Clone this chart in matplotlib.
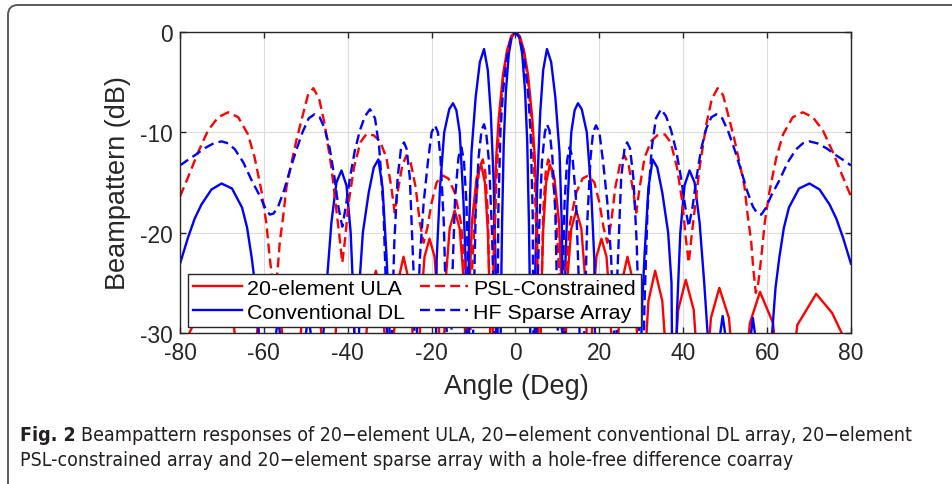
import numpy as np
import matplotlib
matplotlib.use("Agg")
import matplotlib.pyplot as plt
from matplotlib import font_manager as fm
from matplotlib.lines import Line2D
from matplotlib.patches import FancyBboxPatch
from matplotlib.transforms import IdentityTransform

# ---------------- data (right half 0..80 deg, pattern is symmetric) ----------------
ula_deg = [0, 1, 2, 3, 4, 4.6, 5.1, 5.74,
           6.1, 6.6, 7.3, 8.2, 9.3, 10.4, 11.1, 11.54,
           11.9, 12.4, 13.3, 14.5, 15.7, 16.6, 17.1, 17.46,
           17.9, 18.4, 19.3, 20.5, 21.7, 22.6, 23.1, 23.58,
           24.2, 25.1, 26.7, 28.3, 29.4, 30.0,
           30.7, 31.7, 33.3, 35.0, 36.2, 36.87,
           37.6, 38.8, 40.6, 42.5, 43.7, 44.43,
           45.3, 46.6, 48.6, 50.9, 52.3, 53.13,
           54.2, 55.9, 58.3, 61.4, 63.0, 64.16,
           65.3, 67.2, 71.7, 75.5, 78.0, 80.0]
ula_db = [0, -0.4, -1.8, -4.3, -8.6, -12.5, -18, -45,
          -27, -19.8, -15, -13.2, -14.6, -19, -27, -45,
          -32, -24.5, -19.6, -17.8, -19.6, -24.5, -32, -45,
          -34, -27.5, -22.4, -20.6, -22.4, -27.5, -34, -45,
          -33, -25.4, -22.4, -25.4, -33, -45,
          -34, -26.8, -23.8, -26.8, -34, -45,
          -35, -27.7, -24.7, -27.7, -35, -45,
          -35.5, -28.5, -25.5, -28.5, -35.5, -45,
          -36, -29, -25.9, -29, -36, -45,
          -36, -29.2, -26.1, -28.0, -30.2, -33]

dl_deg = [0, 0.9, 1.6, 2.3, 2.8, 3.2, 3.5, 3.7,
          4.3, 4.7, 5.2, 5.9, 6.6, 7.5, 8.5, 9.5, 10.5, 11.1, 11.4,
          11.6, 11.9, 12.4, 13.3, 14.1, 14.9, 15.8, 17.0, 18.0, 18.8, 19.2,
          29.6, 30.1, 30.8, 31.7, 32.7, 33.8, 35.0, 36.4, 37.2, 37.6,
          38.0, 38.5, 39.3, 40.3, 41.5, 42.7, 43.9, 45.0, 45.8, 46.1,
          48.0, 48.5, 49.4, 50.3, 50.8,
          55.4, 55.9, 56.6, 57.4, 57.9,
          60.6, 61.2, 62.0, 62.9, 64.0, 65.2, 67.6, 70.1, 72.5, 74.9, 76.5, 78.1, 80.0]
dl_db = [0, -0.5, -2.2, -6, -11, -19, -28, -45,
         -45, -24, -15, -8, -3.8, -1.7, -3, -6.5, -12, -20, -45,
         -45, -23, -17, -10, -7.8, -7.1, -7.7, -10, -15.5, -22.7, -45,
         -45, -28, -22, -15.5, -12.7, -13.5, -16, -20, -25, -45,
         -45, -28, -20, -15.3, -13.8, -15, -19, -25, -30, -45,
         -45, -31, -28.3, -31, -45,
         -45, -31, -28.5, -31, -45,
         -45, -30, -25.5, -22.5, -19.5, -17.5, -15.6, -15.1, -15.7, -17.2, -18.6, -20.5, -23.1]

psl_deg = [0, 1, 2, 3, 4, 4.6, 5.2, 5.6,
           6.0, 6.6, 7.2, 7.8, 8.6, 9.5, 10.4, 11.0, 11.3,
           11.6, 12.0, 13.0, 14.5, 16.0, 17.4, 18.8, 20.0, 21.0, 21.9,
           22.8, 23.8, 25.0, 26.0, 27.0, 28.0, 28.8, 29.6, 30.8, 32.3,
           33.8, 35.6, 37.0, 38.5, 39.8, 40.6, 41.3, 42.0, 42.7, 43.9,
           45.5, 46.8, 48.2, 49.5, 50.8, 52.2, 53.4, 54.6, 55.4, 56.2,
           56.7, 57.3, 57.9, 58.6, 59.4, 60.6, 62.2, 63.8, 66.1, 68.5,
           70.9, 73.3, 75.7, 78.1, 80.0]
psl_db = [0, -0.5, -2, -4.8, -10, -15, -24, -45,
          -30, -18, -14, -12.7, -13.5, -17, -24, -34, -45,
          -40, -24, -19, -16, -14.6, -14.3, -15, -17, -19.5, -21,
          -19, -15.5, -13, -12.3, -13.3, -15.7, -18, -15.5, -12.5, -10.9,
          -10.3, -10.2, -11, -13.5, -17, -20.5, -23, -20.3, -17.8, -13.5,
          -9.2, -6.7, -5.6, -6.3, -8.4, -10.7, -13.0, -15.4, -18.4, -20.9,
          -23.6, -26, -25, -22.5, -19.1, -15.8, -12.5, -10.2, -8.5, -8.0,
          -8.5, -9.8, -12.0, -14.5, -16.4]

hf_deg = [0, 1, 2, 3, 3.6, 4.1, 4.5,
          5.0, 5.6, 6.3, 7.0, 7.5, 8.1, 8.8, 9.5, 10.1, 10.4,
          10.8, 11.1, 11.7, 12.3, 12.9, 13.6, 14.4, 15.2, 15.5,
          16.0, 16.4, 17.1, 17.9, 18.5, 19.2, 20.0, 20.9, 21.9, 22.8, 23.5, 23.8,
          24.3, 25.2, 26.0, 26.6, 27.3, 28.1, 28.9, 29.5, 29.9,
          30.3, 30.7, 31.5, 32.5, 33.5, 34.7, 35.9, 37.1, 38.3, 39.5,
          40.5, 41.3, 42.2, 43.2, 44.3, 45.5, 46.7, 47.9, 49.3, 50.8,
          52.3, 53.8, 55.2, 56.6, 57.7, 58.6, 59.6, 61.0, 62.9, 64.9,
          66.9, 68.5, 70.1, 72.0, 74.2, 76.5, 78.3, 80.0]
hf_db = [0, -0.6, -2.4, -6, -10, -18, -45,
         -30, -20, -13, -10, -9.2, -9.8, -12.5, -18, -30, -45,
         -45, -28, -17, -12.8, -11.5, -12.5, -16.5, -26, -45,
         -45, -30, -19, -12.5, -10, -9.3, -10, -13, -17, -22.5, -30, -40,
         -24, -14.5, -11.6, -11.0, -11.6, -14.5, -21, -30, -45,
         -45, -28, -17.5, -11.5, -8.6, -7.7, -8.4, -9.8, -11.8, -14.6,
         -17.5, -19.4, -17.5, -14.4, -11.6, -9.6, -8.5, -8.2, -8.6, -10.0,
         -11.8, -13.8, -15.8, -17.4, -18.1, -18.2, -17.6, -16.3, -14.8, -13.0,
         -11.7, -11.1, -10.9, -11.1, -11.6, -12.3, -12.8, -13.3]

labels = ["20-element ULA", "Conventional DL", "PSL-Constrained", "HF Sparse Array"]
x_ticks = [-80, -60, -40, -20, 0, 20, 40, 60, 80]
y_ticks = [-30, -20, -10, 0]

caption_bold = "Fig. 2"
caption_l1 = "Beampattern responses of 20\u2212element ULA, 20\u2212element conventional DL array, 20\u2212element"
caption_l2 = "PSL-constrained array and 20\u2212element sparse array with a hole-free difference coarray"


def mirror(deg, db):
    d = np.asarray(deg, float)
    v = np.asarray(db, float)
    return np.concatenate([-d[:0:-1], d]), np.concatenate([v[:0:-1], v])


def pick_caption_font():
    cands = [("Liberation Sans Narrow", "normal"), ("Noto Sans", "condensed"),
             ("DejaVu Sans", "condensed"), ("Open Sans", "condensed"),
             ("Roboto", "condensed"), ("Roboto Condensed", "normal")]
    for fam, st in cands:
        try:
            p = fm.findfont(fm.FontProperties(family=fam, stretch=st),
                            fallback_to_default=False)
        except Exception:
            continue
        low = p.lower()
        if "narrow" in low or "condensed" in low or "cond" in low:
            return fam, st
    return "Roboto", "normal"


# ---------------- figure ----------------
W, H = 953, 485
plt.rcParams["font.family"] = ["Liberation Sans", "DejaVu Sans"]
fig = plt.figure(figsize=(W / 100, H / 100), dpi=100)
fig.patch.set_facecolor("white")

frame = FancyBboxPatch((8, -60), 1200, 479 + 60, boxstyle="round,pad=0,rounding_size=10",
                       transform=IdentityTransform(), fill=False, edgecolor="#5a5a5a",
                       linewidth=1.4)
fig.add_artist(frame)

axL, axR, axT, axB = 180, 851, 33, 334
ax = fig.add_axes([axL / W, (H - axB) / H, (axR - axL) / W, (axB - axT) / H])

lw = 1.7
dash = (0, (4.2, 2.2))
series = [
    (ula_deg, ula_db, "#ff0000", "-"),
    (dl_deg, dl_db, "#0000ff", "-"),
    (psl_deg, psl_db, "#ff0000", dash),
    (hf_deg, hf_db, "#0000ff", dash),
]
handles = []
for (dg, db, c, ls), lab in zip(series, labels):
    xx, yy = mirror(dg, db)
    ax.plot(xx, yy, color=c, linestyle=ls, linewidth=lw, solid_joinstyle="round")
    handles.append(Line2D([], [], color=c, linestyle=ls, linewidth=lw))

ax.set_xlim(-80, 80)
ax.set_ylim(-30, 0)
ax.set_xticks(x_ticks)
ax.set_yticks(y_ticks)
ax.set_xticklabels([str(v) for v in x_ticks])
ax.set_yticklabels([str(v) for v in y_ticks])
ax.grid(True, color="#dcdcdc", linewidth=0.8)
ax.set_axisbelow(True)
for s in ax.spines.values():
    s.set_color("#262626")
    s.set_linewidth(1.0)
    s.set_zorder(5)
ax.tick_params(direction="in", length=4.5, width=1.0, top=True, right=True,
               colors="#262626", labelsize=16.4, pad=6)
ax.tick_params(axis="y", pad=5)

leg = ax.legend(handles, labels, ncol=2, loc="lower left", bbox_to_anchor=(0.012, 0.02),
                borderaxespad=0, fontsize=15.4, frameon=True, fancybox=False,
                framealpha=1, edgecolor="#262626", handlelength=2.25, handletextpad=0.25,
                columnspacing=0.7, labelspacing=0.22, borderpad=0.25)
leg.get_frame().set_linewidth(1.0)
leg.set_zorder(10)

fig.text(118.5 / W, 1 - 183 / H, "Beampattern (dB)", rotation=90, ha="center", va="center",
         fontsize=19.5, color="#262626")
fig.text(516 / W, 1 - 394 / H, "Angle (Deg)", ha="center", va="baseline",
         fontsize=19.5, color="#262626")

# caption
cfam, cst = pick_caption_font()
cap_font = [cfam, "DejaVu Sans"]
t1 = fig.text(20 / W, 1 - 441 / H, caption_bold, ha="left", va="baseline", fontsize=13,
              fontweight="bold", family=cap_font, fontstretch=cst, color="#231f20")
t2 = fig.text(0, 1 - 441 / H, caption_l1, ha="left", va="baseline", fontsize=13,
              family=cap_font, fontstretch=cst, color="#231f20")
t3 = fig.text(20 / W, 1 - 466 / H, caption_l2, ha="left", va="baseline", fontsize=13,
              family=cap_font, fontstretch=cst, color="#231f20")
fig.canvas.draw()
r = fig.canvas.get_renderer()


def layout(fs):
    for t in (t1, t2, t3):
        t.set_fontsize(fs)
    bb = t1.get_window_extent(r)
    t2.set_x((bb.x1 + 0.4 * fs) / W)
    return t2.get_window_extent(r).x1


fs = 13.0
for _ in range(4):
    x1 = layout(fs)
    fs *= (913 - 20) / (x1 - 20)
layout(fs)

fig.savefig("out.png", dpi=100)
